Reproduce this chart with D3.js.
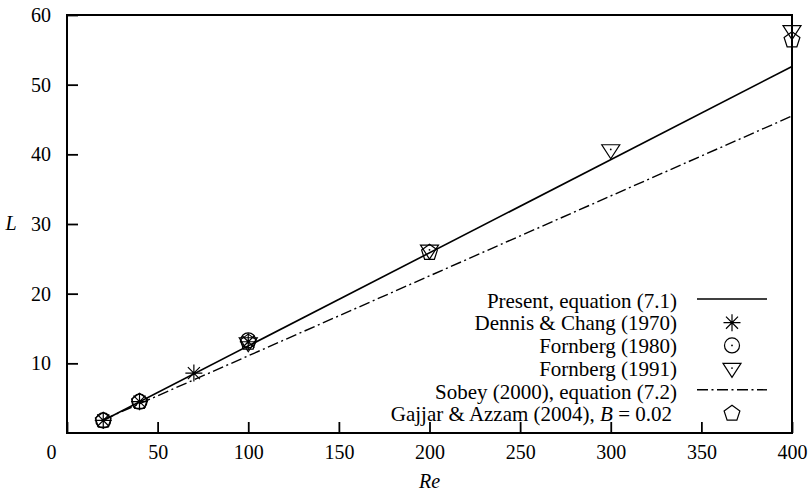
<!DOCTYPE html>
<html>
<head>
<meta charset="utf-8">
<script src="https://cdn.jsdelivr.net/npm/d3@7"></script>
<style>
  html, body { margin: 0; padding: 0; background: #fff; }
  svg { display: block; }
</style>
</head>
<body>
<svg id="chart" width="811" height="496"></svg>
<script>
// Recirculation length L against Reynolds number Re

const xTicks = [0, 50, 100, 150, 200, 250, 300, 350, 400];
const yTicks = [10, 20, 30, 40, 50, 60];

// straight-line fits (end points)
const reLine = [20, 400];
const lPresent = [1.8, 52.6];
const lSobey = [1.9, 45.5];

// Dennis & Chang (1970)
const reDennis = [20, 40, 70, 100];
const lDennis = [1.8, 4.5, 8.6, 13.1];

// Fornberg (1980)
const reF1980 = [20, 40, 100];
const lF1980 = [1.8, 4.5, 13.3];

// Fornberg (1991)
const reF1991 = [100, 200, 300, 400];
const lF1991 = [13.0, 26.3, 40.7, 57.8];

// Gajjar & Azzam (2004), B = 0.02
const reGajjar = [20, 40, 100, 200, 400];
const lGajjar = [1.8, 4.5, 13.0, 25.9, 56.4];

const legendLabels = [
  "Present, equation (7.1)",
  "Dennis & Chang (1970)",
  "Fornberg (1980)",
  "Fornberg (1991)",
  "Sobey (2000), equation (7.2)",
  "Gajjar & Azzam (2004), "
];

const svg = d3.select("#chart");
const W = 811, H = 496;
const plotL = 67, plotR = 792, plotT = 15, plotB = 433;
const SERIF = "'Liberation Serif', Tinos, 'Noto Serif', 'Nimbus Roman', FreeSerif, 'DejaVu Serif', serif";

const x = d3.scaleLinear().domain([0, 400]).range([plotL, plotR]);
const y = d3.scaleLinear().domain([0, 60]).range([plotB, plotT]);

svg.append("rect").attr("width", W).attr("height", H).attr("fill", "#fff");

const FONT = 20, LEG_FONT = 21;

// axes with inward ticks
const gx = svg.append("g")
  .attr("transform", `translate(0,${plotB})`)
  .call(d3.axisBottom(x).tickValues(xTicks).tickSizeInner(-11).tickSizeOuter(0).tickPadding(12).tickFormat(d3.format("d")));
const gy = svg.append("g")
  .attr("transform", `translate(${plotL},0)`)
  .call(d3.axisLeft(y).tickValues(yTicks).tickSizeInner(-11).tickSizeOuter(0).tickPadding(16).tickFormat(d3.format("d")));

[gx, gy].forEach(g => {
  g.attr("font-family", SERIF).attr("font-size", FONT);
  g.select(".domain").remove();
  g.selectAll(".tick line").attr("stroke", "#000").attr("stroke-width", 1.8);
  g.selectAll(".tick text").attr("fill", "#000");
});
// the origin label sits left of the corner
gx.selectAll(".tick").filter(d => d === 0).select("text").attr("x", -16);

// frame
svg.append("rect")
  .attr("x", plotL).attr("y", plotT)
  .attr("width", plotR - plotL).attr("height", plotB - plotT)
  .attr("fill", "none").attr("stroke", "#000").attr("stroke-width", 2);

// axis titles
svg.append("text").attr("x", 11).attr("y", y(30)).attr("dy", "0.32em").attr("font-family", SERIF)
  .attr("text-anchor", "middle").attr("font-size", FONT).attr("font-style", "italic").text("L");
svg.append("text").attr("x", (plotL + plotR) / 2).attr("y", 488).attr("font-family", SERIF)
  .attr("text-anchor", "middle").attr("font-size", FONT).attr("font-style", "italic").text("Re");

// fitted lines
const line = d3.line().x(d => x(d[0])).y(d => y(d[1]));
const SOBEY_DASH = "11,3.5,2,3.5";
svg.append("path").datum(d3.zip(reLine, lPresent)).attr("d", line)
  .attr("fill", "none").attr("stroke", "#000").attr("stroke-width", 1.6);
svg.append("path").datum(d3.zip(reLine, lSobey)).attr("d", line)
  .attr("fill", "none").attr("stroke", "#000").attr("stroke-width", 1.4)
  .attr("stroke-dasharray", SOBEY_DASH);

// marker shapes
const SW = 1.2;
function asterisk(g) {
  const r = 8.5, d = r * Math.SQRT1_2;
  g.append("path").attr("d", `M${-r},0H${r}M0,${-r}V${r}M${-d},${-d}L${d},${d}M${-d},${d}L${d},${-d}`)
    .attr("stroke", "#000").attr("stroke-width", SW).attr("fill", "none");
}
function circleDot(g) {
  g.append("circle").attr("r", 7.5).attr("fill", "none").attr("stroke", "#000").attr("stroke-width", SW);
  g.append("circle").attr("r", 0.9).attr("fill", "#000");
}
function triangleDown(g) {
  g.append("path").attr("d", "M-9,-4.7L9,-4.7L0,9.3Z")
    .attr("fill", "none").attr("stroke", "#000").attr("stroke-width", SW);
  g.append("circle").attr("r", 0.9).attr("fill", "#000");
}
function pentagon(g) {
  const R = 8.3;
  const pts = d3.range(5).map(i => {
    const a = -Math.PI / 2 + i * 2 * Math.PI / 5;
    return [R * Math.cos(a), R * Math.sin(a)];
  });
  g.append("path").attr("d", "M" + pts.join("L") + "Z")
    .attr("fill", "none").attr("stroke", "#000").attr("stroke-width", SW);
}

function plotSeries(res, ls, shape) {
  res.forEach((r, i) => {
    const g = svg.append("g").attr("transform", `translate(${x(r)},${y(ls[i])})`);
    shape(g);
  });
}
plotSeries(reGajjar, lGajjar, pentagon);
plotSeries(reF1980, lF1980, circleDot);
plotSeries(reF1991, lF1991, triangleDown);
plotSeries(reDennis, lDennis, asterisk);

// legend
const legX = 677, legY0 = 301, legDy = 22.7, symX = 732;
const legendKeys = ["line", asterisk, circleDot, triangleDown, "dash", pentagon];
legendLabels.forEach((lab, i) => {
  const yy = legY0 + i * legDy;
  const t = svg.append("text").attr("x", legX).attr("y", yy).attr("dy", "0.32em")
    .attr("text-anchor", "end").attr("font-size", LEG_FONT).attr("font-family", SERIF);
  if (i === 5) {
    t.attr("x", legX - 5);
    t.append("tspan").text(lab.replace(/ $/, "\u00a0"));
    t.append("tspan").attr("font-style", "italic").text("B");
    t.append("tspan").text(" = 0.02");
  } else {
    t.text(lab);
  }
  const k = legendKeys[i];
  if (k === "line" || k === "dash") {
    const p = svg.append("line").attr("x1", 697).attr("x2", 767).attr("y1", yy - 2).attr("y2", yy - 2)
      .attr("stroke", "#000").attr("stroke-width", k === "line" ? 1.6 : 1.4);
    if (k === "dash") p.attr("stroke-dasharray", SOBEY_DASH);
  } else {
    k(svg.append("g").attr("transform", `translate(${symX},${yy - 1})`));
  }
});
</script>
</body>
</html>
